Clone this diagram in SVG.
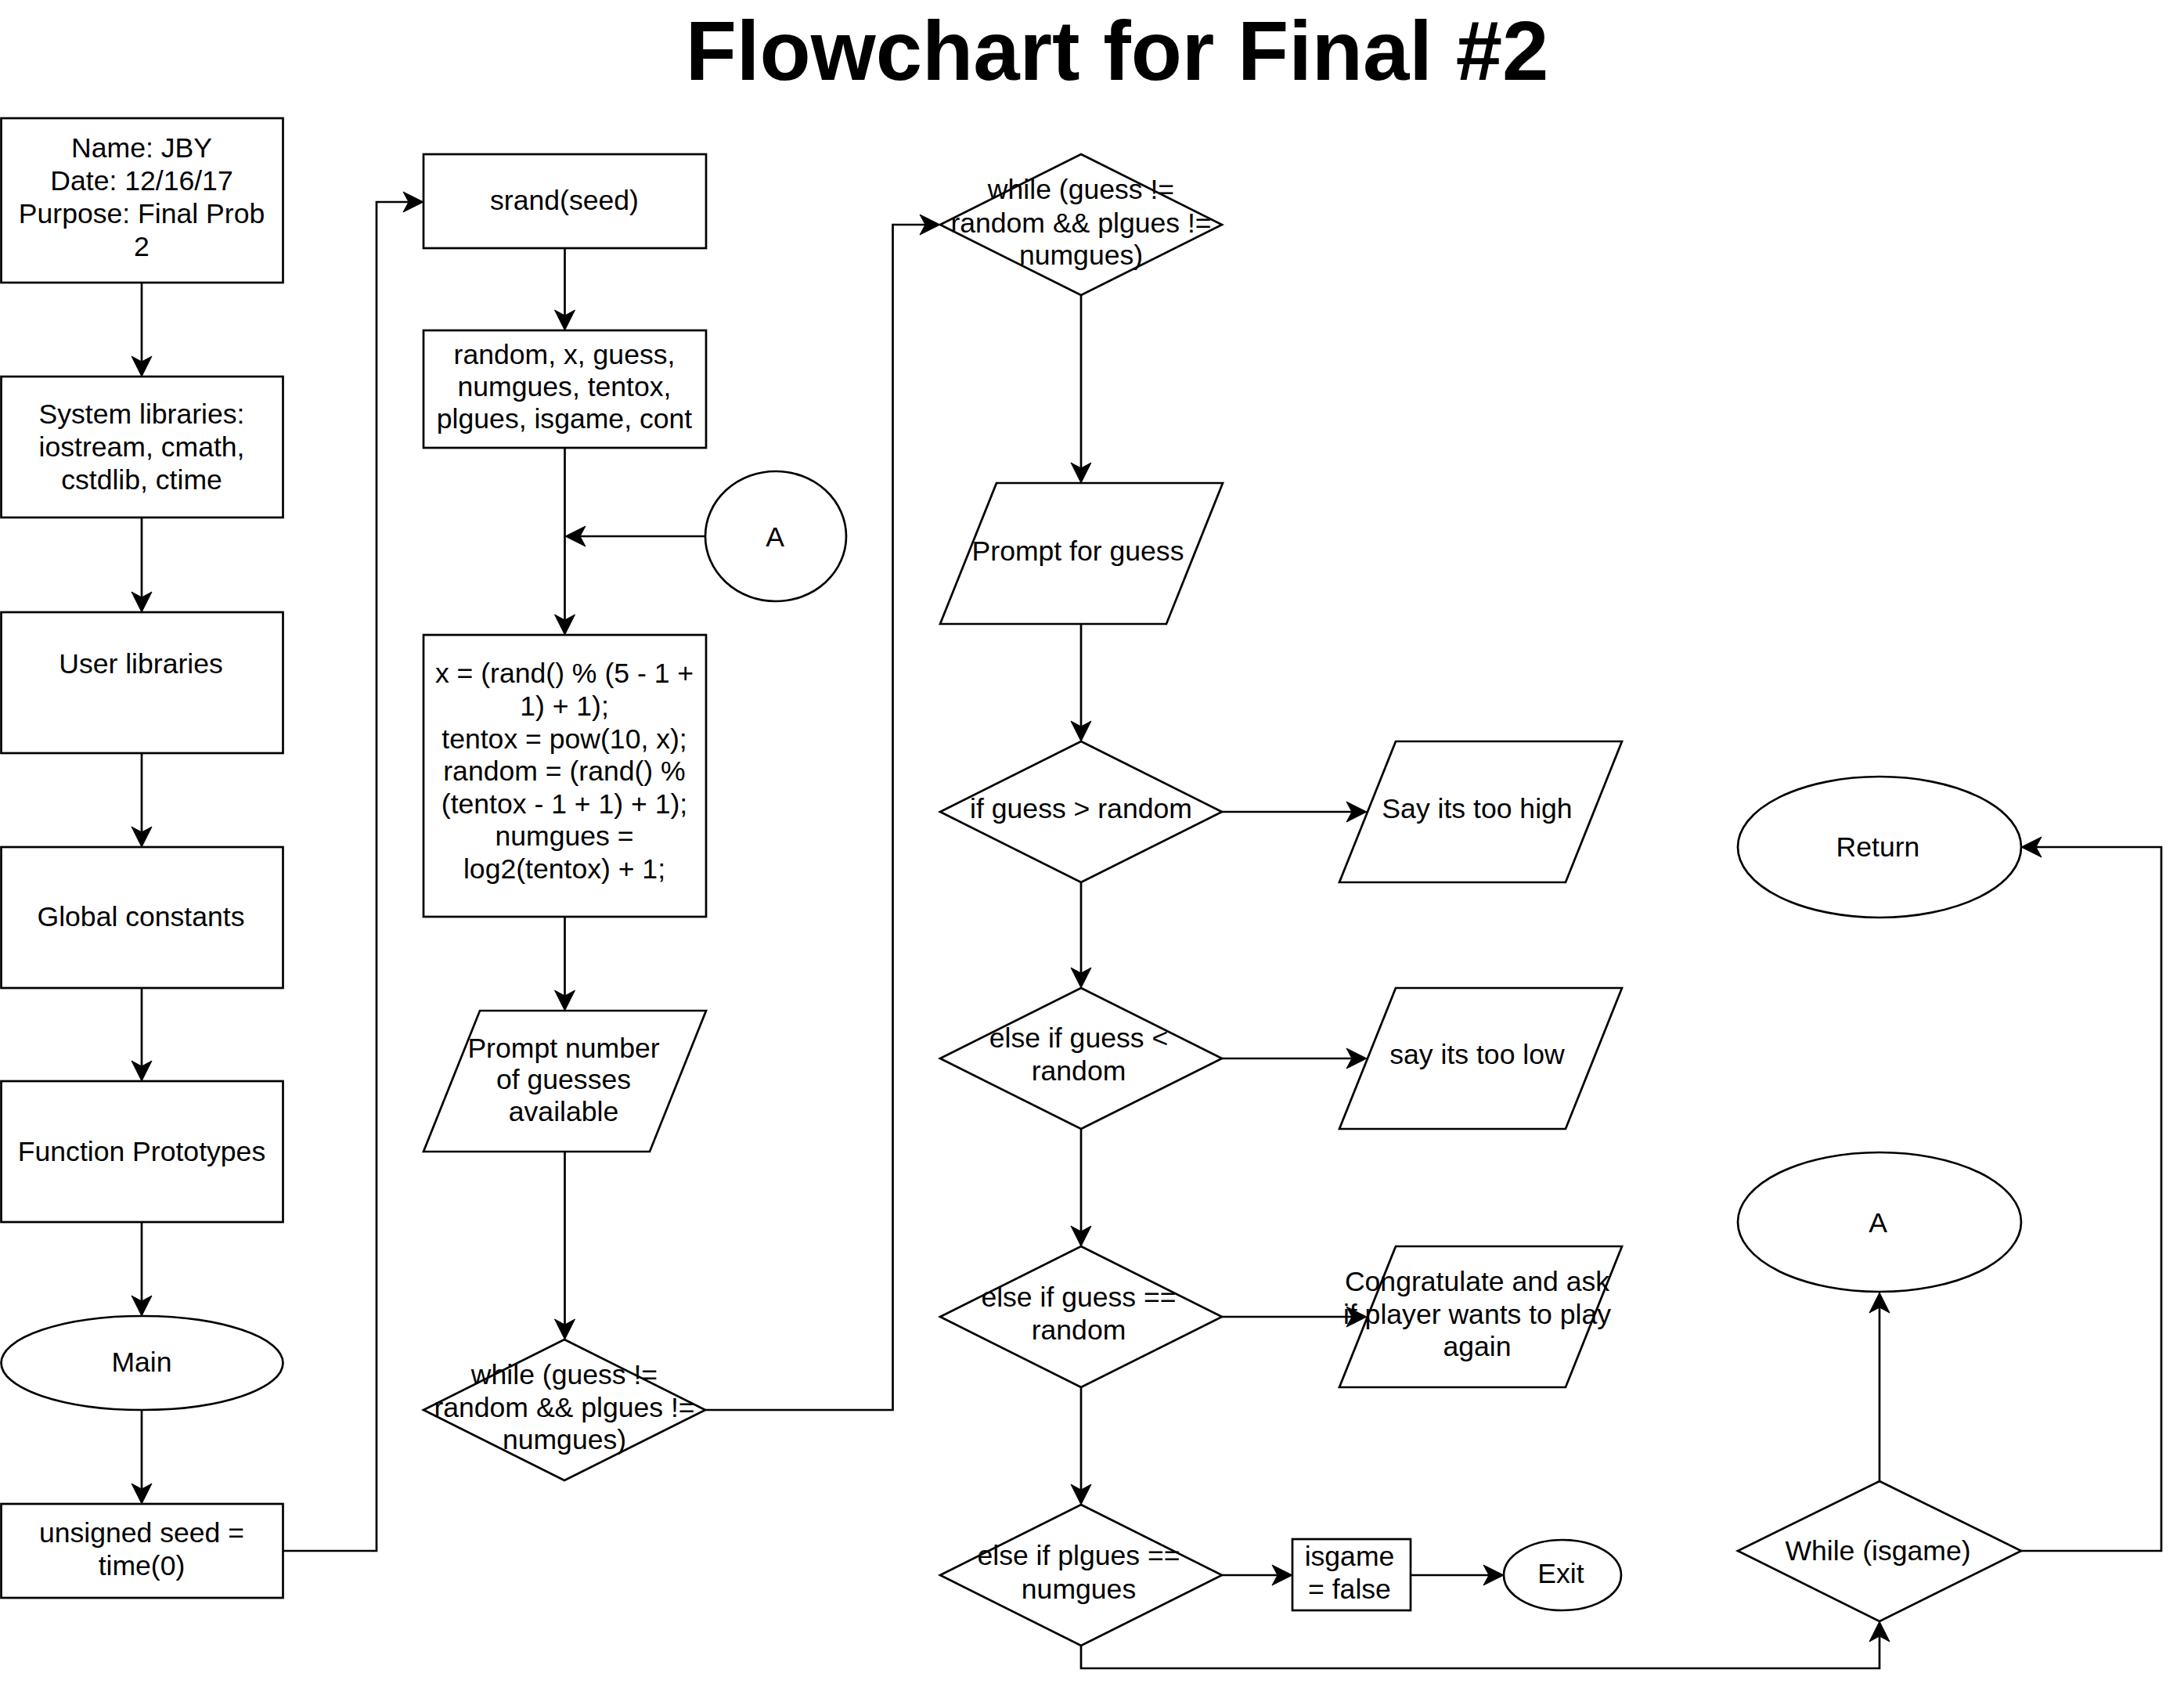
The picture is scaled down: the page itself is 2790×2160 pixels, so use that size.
<svg xmlns="http://www.w3.org/2000/svg" width="2790" height="2160" viewBox="0 0 2790 2160">
<style>
.n{fill:#fff;stroke:#000;stroke-width:2.7}
.t{font-family:"Liberation Sans",Arial,Helvetica,sans-serif;font-size:35.6px;text-anchor:middle;fill:#000}
.title{font-family:"Liberation Sans",Arial,Helvetica,sans-serif;font-size:106.7px;font-weight:bold;text-anchor:middle;fill:#000}
.c{fill:none;stroke:#000;stroke-width:2.7;marker-end:url(#arr)}
</style>
<defs>
<marker id="arr" markerUnits="userSpaceOnUse" markerWidth="32" markerHeight="32" viewBox="0 -16 32 32" refX="21" refY="0" orient="auto" overflow="visible">
<path d="M0,-13 L26,0 L0,13 L7,0 Z" fill="#000" stroke="#000" stroke-width="1"/>
</marker>
</defs>
<rect width="2790" height="2160" fill="#fff"/>
<text class="title" x="1427" y="102">Flowchart for Final #2</text>

<g id="connectors">
<path class="c" d="M181,361 V476"/>
<path class="c" d="M181,661 V777"/>
<path class="c" d="M181,962 V1077"/>
<path class="c" d="M181,1262 V1376"/>
<path class="c" d="M181,1561 V1676"/>
<path class="c" d="M181,1801 V1916"/>
<path class="c" d="M361.5,1981 H481 V258 H536"/>
<path class="c" d="M721.5,317 V417"/>
<path class="c" d="M721.5,572 V806"/>
<path class="c" d="M901,685 H727"/>
<path class="c" d="M721.5,1171 V1286"/>
<path class="c" d="M721.5,1471 V1706"/>
<path class="c" d="M901,1801 H1140.5 V287 H1196"/>
<path class="c" d="M1381,377 V612"/>
<path class="c" d="M1381,797 V942"/>
<path class="c" d="M1381,1127 V1257"/>
<path class="c" d="M1381,1442 V1587"/>
<path class="c" d="M1381,1772 V1917"/>
<path class="c" d="M1561,1037 H1741"/>
<path class="c" d="M1561,1352 H1741"/>
<path class="c" d="M1561,1682 H1741"/>
<path class="c" d="M1561,2012 H1646"/>
<path class="c" d="M1802,2012 H1916"/>
<path class="c" d="M2401,1892 V1656"/>
<path class="c" d="M1381,2102 V2131 H2401 V2076"/>
<path class="c" d="M2582,1981 H2761 V1082 H2587"/>
</g>

<g id="n-header"><rect class="n" x="1.5" y="151" width="360" height="210"/>
<text class="t" x="181"><tspan x="181" y="201">Name: JBY</tspan><tspan x="181" y="243">Date: 12/16/17</tspan><tspan x="181" y="285">Purpose: Final Prob</tspan><tspan x="181" y="327">2</tspan></text></g>

<g id="n-syslib"><rect class="n" x="1.5" y="481" width="360" height="180"/>
<text class="t"><tspan x="181" y="541">System libraries:</tspan><tspan x="181" y="583">iostream, cmath,</tspan><tspan x="181" y="625">cstdlib, ctime</tspan></text></g>

<g id="n-userlib"><rect class="n" x="1.5" y="782" width="360" height="180"/>
<text class="t" x="180" y="860">User libraries</text></g>

<g id="n-global"><rect class="n" x="1.5" y="1082" width="360" height="180"/>
<text class="t" x="180" y="1183">Global constants</text></g>

<g id="n-proto"><rect class="n" x="1.5" y="1381" width="360" height="180"/>
<text class="t" x="181" y="1483">Function Prototypes</text></g>

<g id="n-main"><ellipse class="n" cx="181.5" cy="1741" rx="180" ry="60"/>
<text class="t" x="181" y="1752">Main</text></g>

<g id="n-seed"><rect class="n" x="1.5" y="1921" width="360" height="120"/>
<text class="t"><tspan x="181" y="1970">unsigned seed =</tspan><tspan x="181" y="2012">time(0)</tspan></text></g>

<g id="n-srand"><rect class="n" x="541" y="197" width="361" height="120"/>
<text class="t" x="721" y="268">srand(seed)</text></g>

<g id="n-vars"><rect class="n" x="541" y="422" width="361" height="150"/>
<text class="t"><tspan x="721" y="465">random, x, guess,</tspan><tspan x="721" y="506">numgues, tentox,</tspan><tspan x="721" y="547">plgues, isgame, cont</tspan></text></g>

<g id="n-A1"><ellipse class="n" cx="991" cy="685" rx="90" ry="83"/>
<text class="t" x="990" y="698">A</text></g>

<g id="n-calc"><rect class="n" x="541" y="811" width="361" height="360"/>
<text class="t"><tspan x="721" y="872">x = (rand() % (5 - 1 +</tspan><tspan x="721" y="914">1) + 1);</tspan><tspan x="721" y="956">tentox = pow(10, x);</tspan><tspan x="721" y="997">random = (rand() %</tspan><tspan x="721" y="1039">(tentox - 1 + 1) + 1);</tspan><tspan x="721" y="1080">numgues =</tspan><tspan x="721" y="1122">log2(tentox) + 1;</tspan></text></g>

<g id="n-promptnum"><polygon class="n" points="613,1291 902,1291 830,1471 541,1471"/>
<text class="t"><tspan x="720" y="1351">Prompt number</tspan><tspan x="720" y="1391">of guesses</tspan><tspan x="720" y="1432">available</tspan></text></g>

<g id="n-while1"><polygon class="n" points="721,1711 901,1801 721,1891 541,1801"/>
<text class="t"><tspan x="721" y="1768">while (guess !=</tspan><tspan x="721" y="1810">random &amp;&amp; plgues !=</tspan><tspan x="721" y="1851">numgues)</tspan></text></g>

<g id="n-while2"><polygon class="n" points="1381,197 1561,287 1381,377 1201,287"/>
<text class="t"><tspan x="1381" y="254">while (guess !=</tspan><tspan x="1381" y="297">random &amp;&amp; plgues !=</tspan><tspan x="1381" y="338">numgues)</tspan></text></g>

<g id="n-promptguess"><polygon class="n" points="1273,617 1562,617 1490,797 1201,797"/>
<text class="t" x="1377" y="716">Prompt for guess</text></g>

<g id="n-ifgt"><polygon class="n" points="1381,947 1561,1037 1381,1127 1201,1037"/>
<text class="t" x="1381" y="1045">if guess &gt; random</text></g>

<g id="n-high"><polygon class="n" points="1783,947 2072,947 2000,1127 1711,1127"/>
<text class="t" x="1887" y="1045">Say its too high</text></g>

<g id="n-iflt"><polygon class="n" points="1381,1262 1561,1352 1381,1442 1201,1352"/>
<text class="t"><tspan x="1378" y="1338">else if guess &lt;</tspan><tspan x="1378" y="1380">random</tspan></text></g>

<g id="n-low"><polygon class="n" points="1783,1262 2072,1262 2000,1442 1711,1442"/>
<text class="t" x="1887" y="1359">say its too low</text></g>

<g id="n-ifeq"><polygon class="n" points="1381,1592 1561,1682 1381,1772 1201,1682"/>
<text class="t"><tspan x="1378" y="1669">else if guess ==</tspan><tspan x="1378" y="1711">random</tspan></text></g>

<g id="n-congrats"><polygon class="n" points="1783,1592 2072,1592 2000,1772 1711,1772"/>
<text class="t"><tspan x="1887" y="1649">Congratulate and ask</tspan><tspan x="1887" y="1691">if player wants to play</tspan><tspan x="1887" y="1732">again</tspan></text></g>

<g id="n-ifplgues"><polygon class="n" points="1381,1922 1561,2012 1381,2102 1201,2012"/>
<text class="t"><tspan x="1378" y="1999">else if plgues ==</tspan><tspan x="1378" y="2042">numgues</tspan></text></g>

<g id="n-isgame"><rect class="n" x="1651" y="1966" width="151" height="91"/>
<text class="t"><tspan x="1724" y="2000">isgame</tspan><tspan x="1724" y="2042">= false</tspan></text></g>

<g id="n-exit"><ellipse class="n" cx="1996" cy="2012" rx="75" ry="45"/>
<text class="t" x="1994" y="2022">Exit</text></g>

<g id="n-return"><ellipse class="n" cx="2401" cy="1082" rx="181" ry="90"/>
<text class="t" x="2399" y="1094">Return</text></g>

<g id="n-A2"><ellipse class="n" cx="2401" cy="1561" rx="181" ry="89"/>
<text class="t" x="2399" y="1574">A</text></g>

<g id="n-whilegame"><polygon class="n" points="2401,1892 2582,1981 2401,2071 2220,1981"/>
<text class="t" x="2399" y="1993">While (isgame)</text></g>
</svg>
